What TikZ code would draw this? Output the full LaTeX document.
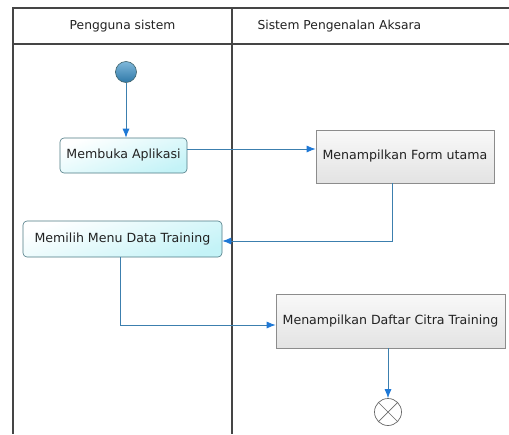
\documentclass[tikz,border=0pt]{standalone}
\usepackage{fontspec}
\setmainfont{DejaVu Sans}
\usetikzlibrary{arrows.meta}
\definecolor{frame}{HTML}{454545}
\definecolor{lineblue}{HTML}{3C7FAE}
\definecolor{tipblue}{HTML}{1E78D6}
\definecolor{cyanlight}{HTML}{C4F3F7}
\definecolor{cyanedge}{HTML}{4E7A84}
\definecolor{grayedge}{HTML}{8C8C8C}
\definecolor{balltop}{HTML}{7FB8DA}
\definecolor{ballbot}{HTML}{2F78A8}
\definecolor{txt}{HTML}{222222}
\tikzset{
  lane/.style={draw=frame, line width=1.2pt},
  userbox/.style={draw=cyanedge, rounded corners=4pt, top color=white, bottom color=cyanlight,
    shading angle=20, font=\fontsize{12.6}{14}\selectfont, text=txt, inner sep=0pt, line width=0.6pt},
  sysbox/.style={draw=grayedge, top color=white!95!gray, bottom color=gray!22,
    font=\fontsize{12.6}{14}\selectfont, text=txt, inner sep=0pt, line width=0.7pt},
  flow/.style={draw=lineblue, line width=0.8pt, -{Latex[length=9pt,width=7pt,color=tipblue]}},
  title/.style={font=\fontsize{12.3}{14}\selectfont, text=txt}
}
\begin{document}
\begin{tikzpicture}[x=1pt,y=-1pt]
\useasboundingbox (0,0) rectangle (509,434);
\fill[white] (0,0) rectangle (509,434);
% swimlane frame
\draw[lane] (509,8) -- (13,8) -- (13,434);
\draw[lane] (13,44) -- (509,44);
\draw[lane] (232,8) -- (232,434);
\node[title] (t1) at (122.5,26) {Pengguna sistem};
\node[title, anchor=west] (t2) at (254,26) {Sistem Pengenalan Aksara};
% nodes
\node[circle, minimum size=21pt, inner sep=0pt, draw=cyanedge!80!black, top color=balltop, bottom color=ballbot, line width=0.6pt] (start) at (126,72) {};
\node[userbox, minimum width=127pt, minimum height=35pt] (membuka) at (123.5,155.5) {Membuka Aplikasi};
\node[sysbox, minimum width=178pt, minimum height=53pt] (form) at (405,156.5) {Menampilkan Form utama};
\node[userbox, minimum width=199pt, minimum height=36pt] (memilih) at (122.5,239) {Memilih Menu Data Training};
\node[sysbox, minimum width=229pt, minimum height=54pt] (daftar) at (390.5,321) {Menampilkan Daftar Citra Training};
\node[circle, minimum size=27pt, inner sep=0pt, draw=frame!80, fill=white, line width=0.7pt] (end) at (388,412) {};
\draw[frame!80, line width=0.7pt] (end.north east) -- (end.south west) (end.north west) -- (end.south east);
\coordinate (ya) at (0,149);
% connectors
\draw[flow] (start.south) -- (start.south |- membuka.north);
\draw[flow] (membuka.east |- ya) -- (form.west |- ya);
\draw[flow] ([xshift=-13pt]form.south) |- ([yshift=-2pt]memilih.east);
\draw[flow] ([xshift=-2.5pt]memilih.south) |- ([yshift=-4pt]daftar.west);
\draw[flow] ([xshift=-2.5pt]daftar.south) -- (end.north);
\end{tikzpicture}
\end{document}
